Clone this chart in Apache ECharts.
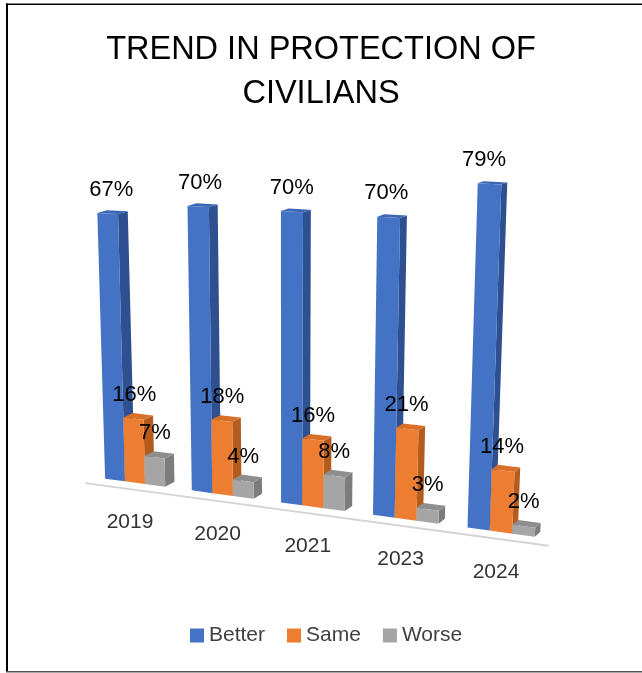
<!DOCTYPE html>
<html><head><meta charset="utf-8">
<script src="https://cdn.jsdelivr.net/npm/echarts/dist/echarts.min.js"></script>
<style>html,body{margin:0;padding:0;background:#fff}#c{width:642px;height:673px}</style>
</head><body><div id="c"></div>
<script>
var categories = ['2019', '2020', '2021', '2023', '2024'];
var better = [67, 70, 70, 70, 79];
var same = [16, 18, 16, 21, 14];
var worse = [7, 4, 8, 3, 2];
var seriesNames = ['Better', 'Same', 'Worse'];
var seriesValues = [better, same, worse];

var FRONT = ['#4472C4', '#ED7D31', '#A5A5A5'];
var SIDE = ['#2E5090', '#B35C1E', '#7C7C7C'];
var TOPC = ['#3A66B4', '#D96F27', '#8E8E8E'];
var FONT = '"Liberation Sans", Arial, sans-serif';

// perspective parameters
var Q = 0.057, KR = 0.098, SLOPE = 0.135, LEAN = 0.000163, XV_OFF = 150;
var BAR_FRAC = 0.232;

function makeWarp(api) {
  var c0 = api.coord([0, 0]);
  var cN = api.coord([categories.length - 1, 0]);
  var span = cN[0] - c0[0];
  return function (fx, fy) {
    var t = (fx - c0[0]) / span;
    var g = t + Q * (t * t - t);
    var X = c0[0] + span * g;
    var hs = (c0[1] - fy) * (1 + KR * t);
    return {
      x: X + LEAN * (X - (c0[0] + XV_OFF)) * hs,
      y: c0[1] + SLOPE * (X - c0[0]) - hs,
      t: t, hs: hs
    };
  };
}

function barRenderer(si) {
  return function (params, api) {
    var W = makeWarp(api);
    var i = api.value(0), v = api.value(1);
    var base = api.coord([i, 0]), topP = api.coord([i, v]);
    var band = api.size([1, 0])[0];
    var w = band * BAR_FRAC;
    var cx = base[0] + (si - 1) * w;
    var xl = cx - w / 2, xr = cx + w / 2;
    var BL = W(xl, base[1]), BR = W(xr, base[1]), TL = W(xl, topP[1]), TR = W(xr, topP[1]);
    var tm = (BL.t + BR.t) / 2;
    var dx = 9.5 - 3.8 * tm;
    var dyB = -5, dyT = -5 + 2.5 * TR.hs / 300;
    var front = [[BL.x, BL.y], [BR.x, BR.y], [TR.x, TR.y], [TL.x, TL.y]];
    var side = [[BR.x, BR.y], [BR.x + dx, BR.y + dyB], [TR.x + dx, TR.y + dyT], [TR.x, TR.y]];
    var top = [[TL.x, TL.y], [TR.x, TR.y], [TR.x + dx, TR.y + dyT], [TL.x + dx, TL.y + dyT]];
    var mid = W(cx, (base[1] + topP[1]) / 2);
    return {
      type: 'group', children: [
        { type: 'polygon', shape: { points: side }, style: { fill: SIDE[si] } },
        { type: 'polygon', shape: { points: top }, style: { fill: TOPC[si] } },
        { type: 'polygon', shape: { points: front }, style: { fill: FRONT[si] } },
        { type: 'text', z2: 100, style: { text: v + '%', x: mid.x, y: (TL.y + TR.y) / 2 - 24, align: 'center', verticalAlign: 'middle', font: '22px ' + FONT, fill: '#000' } }
      ]
    };
  };
}

function catRenderer(params, api) {
  var W = makeWarp(api);
  var i = api.value(0);
  var base = api.coord([i, 0]);
  var p = W(base[0], base[1]);
  var children = [{ type: 'text', style: { text: categories[i], x: p.x - 5, y: p.y + 40, align: 'center', verticalAlign: 'middle', font: '21px ' + FONT, fill: '#333333' } }];
  if (i === 0) {
    var band = api.size([1, 0])[0];
    var a = W(base[0] - 0.57 * band, base[1]);
    var b = W(api.coord([categories.length - 1, 0])[0] + 0.5 * band, base[1]);
    children.push({ type: 'line', shape: { x1: a.x - 1, y1: a.y + 7, x2: b.x - 1, y2: b.y + 7 }, style: { stroke: '#d4d4d4', lineWidth: 2 } });
  }
  return { type: 'group', children: children };
}

var series = [{
  type: 'custom', name: 'axis', silent: true, z: 1,
  data: categories.map(function (c, i) { return [i, 0]; }),
  encode: { x: 0, y: 1 },
  renderItem: catRenderer
}];
seriesNames.forEach(function (n, si) {
  series.push({
    type: 'custom', name: n, z: 2,
    itemStyle: { color: FRONT[si] },
    data: seriesValues[si].map(function (v, i) { return [i, v]; }),
    encode: { x: 0, y: 1 },
    renderItem: barRenderer(si)
  });
});

var chart = echarts.init(document.getElementById('c'), null, { renderer: 'canvas' });
chart.setOption({
  animation: false,
  backgroundColor: '#fff',
  title: {
    text: 'TREND IN PROTECTION OF\nCIVILIANS',
    left: 'center', top: 28, padding: [0, 0, 0, 6],
    textStyle: { fontSize: 32.5, fontWeight: 'normal', lineHeight: 44, color: '#000', fontFamily: FONT }
  },
  legend: {
    data: seriesNames, left: 185, top: 620, icon: 'rect',
    itemWidth: 14, itemHeight: 14, itemGap: 22,
    textStyle: { fontSize: 21, color: '#404040', fontFamily: FONT }
  },
  grid: { left: 89.25, width: 457.5, top: 82.7, height: 400 },
  xAxis: { type: 'category', data: categories, show: false },
  yAxis: { type: 'value', min: 0, max: 100, show: false },
  graphic: [
    { type: 'line', shape: { x1: 7, y1: 3.5, x2: 7, y2: 672 }, style: { stroke: '#000', lineWidth: 2 } },
    { type: 'line', shape: { x1: 6, y1: 4.2, x2: 642, y2: 4.2 }, style: { stroke: '#000', lineWidth: 1.5 } },
    { type: 'line', shape: { x1: 6, y1: 671.8, x2: 642, y2: 671.8 }, style: { stroke: '#555', lineWidth: 1.5 } }
  ],
  series: series
});
</script>
</body></html>
